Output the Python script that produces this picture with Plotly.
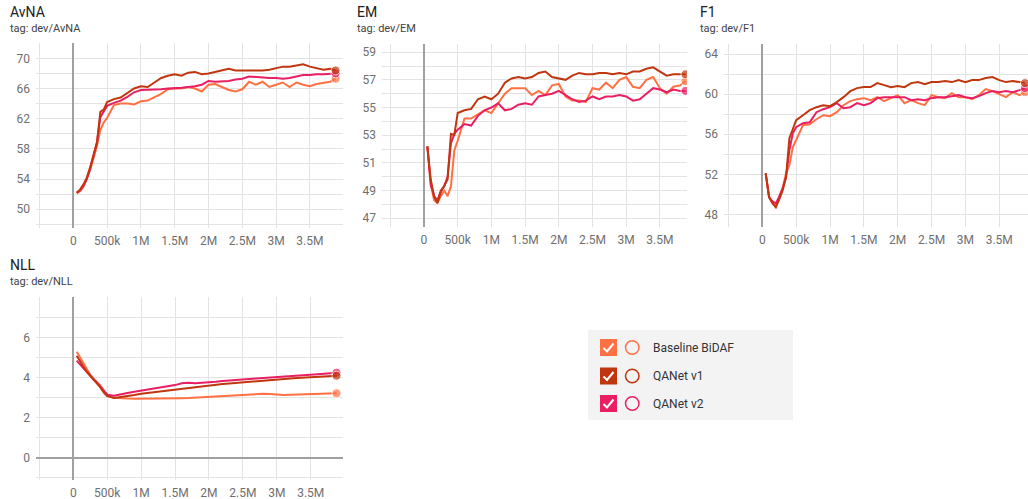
import plotly.graph_objects as go

W, H = 1028, 499

# ---------------- data ----------------
steps = [50000, 100000, 150000, 200000, 250000, 300000, 350000, 400000, 450000, 500000,
         600000, 700000, 800000, 900000, 1000000, 1100000, 1200000, 1300000, 1400000, 1500000,
         1600000, 1700000, 1800000, 1900000, 2000000, 2100000, 2200000, 2300000, 2400000, 2500000,
         2600000, 2700000, 2800000, 2900000, 3000000, 3100000, 3200000, 3300000, 3400000, 3500000,
         3600000, 3700000, 3800000, 3880000]

series_names = ["Baseline BiDAF", "QANet v1", "QANet v2"]

avna_base = [52.1, 52.4, 53.0, 54.0, 55.2, 56.8, 58.4, 60.5, 61.5, 62.1,
             63.8, 64.0, 64.0, 63.9, 64.3, 64.4, 64.8, 65.3, 65.9, 66.0,
             66.0, 66.2, 66.0, 65.6, 66.5, 66.6, 66.2, 65.8, 65.6, 65.9,
             66.9, 66.5, 66.9, 66.2, 66.5, 66.8, 66.2, 66.8, 66.5, 66.3,
             66.6, 66.8, 66.9, 67.3]
avna_v1 = [52.2, 52.6, 53.3, 54.2, 55.6, 57.3, 58.8, 62.9, 63.2, 64.2,
           64.6, 64.8, 65.4, 66.0, 66.3, 66.2, 66.8, 67.4, 67.7, 67.9,
           67.7, 68.1, 68.2, 67.9, 68.0, 68.2, 68.3, 68.6, 68.4, 68.4,
           68.4, 68.3, 68.4, 68.5, 68.7, 68.9, 68.9, 69.1, 69.2, 68.9,
           68.7, 68.5, 68.6, 68.4]
avna_v2 = [52.2, 52.5, 53.1, 54.0, 55.4, 57.2, 58.9, 62.2, 63.0, 63.7,
           64.1, 64.4, 64.9, 65.5, 65.8, 65.8, 65.9, 65.9, 66.0, 66.0,
           66.1, 66.2, 66.3, 66.5, 67.0, 66.9, 66.9, 67.0, 67.2, 67.3,
           67.6, 67.5, 67.5, 67.4, 67.4, 67.3, 67.4, 67.6, 67.8, 67.8,
           67.9, 67.9, 68.0, 68.0]

em_base = [52.2, 49.5, 48.3, 48.1, 48.6, 49.0, 48.6, 49.3, 51.9, 52.6,
           54.2, 54.2, 54.5, 54.8, 54.6, 55.3, 56.0, 56.4, 56.4, 56.4,
           55.9, 56.2, 55.9, 56.6, 56.7, 55.8, 55.5, 55.5, 55.4, 56.4,
           56.3, 56.8, 56.4, 57.0, 57.2, 56.5, 56.4, 57.0, 57.2, 56.4,
           56.0, 56.5, 56.6, 56.9]
em_v1 = [52.2, 49.8, 48.6, 48.1, 48.9, 49.4, 49.8, 53.1, 53.0, 54.6,
         54.8, 54.9, 55.6, 55.8, 55.6, 56.0, 56.8, 57.1, 57.2, 57.1,
         57.2, 57.5, 57.6, 57.2, 57.1, 57.0, 57.3, 57.5, 57.4, 57.4,
         57.5, 57.5, 57.4, 57.5, 57.4, 57.6, 57.6, 57.8, 57.9, 57.6,
         57.3, 57.4, 57.4, 57.4]
em_v2 = [52.2, 49.4, 48.6, 48.3, 49.0, 49.3, 50.0, 52.4, 53.1, 53.4,
         53.8, 53.7, 54.4, 54.8, 55.0, 55.3, 54.8, 54.9, 55.2, 55.3,
         55.2, 55.8, 55.9, 56.0, 56.2, 55.9, 55.6, 55.4, 55.5, 55.8,
         55.6, 55.8, 55.8, 55.9, 55.8, 55.5, 55.6, 56.0, 56.4, 56.3,
         56.1, 56.3, 56.2, 56.2]

f1_base = [52.1, 49.8, 49.2, 48.9, 49.7, 50.6, 52.1, 52.9, 54.7, 55.4,
           56.9, 57.0, 57.5, 57.9, 57.8, 58.2, 58.9, 59.3, 59.5, 59.6,
           59.4, 59.7, 59.3, 59.6, 59.9, 59.1, 59.4, 59.1, 58.9, 59.9,
           59.7, 59.6, 60.1, 59.7, 59.7, 59.5, 59.9, 60.5, 60.3, 60.0,
           59.7, 60.2, 59.9, 60.2]
f1_v1 = [52.1, 49.7, 49.1, 48.7, 49.5, 50.4, 51.7, 55.6, 56.5, 57.4,
         57.9, 58.4, 58.7, 58.9, 58.8, 59.2, 59.7, 60.3, 60.6, 60.7,
         60.7, 61.1, 60.9, 60.7, 60.8, 60.7, 61.1, 61.2, 61.0, 61.2,
         61.2, 61.3, 61.2, 61.4, 61.2, 61.4, 61.4, 61.6, 61.7, 61.4,
         61.2, 61.3, 61.2, 61.1]
f1_v2 = [52.1, 49.7, 49.3, 49.1, 49.8, 50.6, 51.7, 54.4, 56.1, 56.7,
         57.1, 57.2, 58.2, 58.5, 58.7, 59.1, 58.6, 58.7, 59.1, 58.9,
         59.1, 59.6, 59.7, 59.7, 59.7, 59.7, 59.4, 59.5, 59.4, 59.6,
         59.7, 59.7, 59.8, 59.9, 59.7, 59.6, 59.8, 60.1, 60.3, 60.2,
         60.3, 60.2, 60.4, 60.6]

nll_base = [5.3, 5.0, 4.7, 4.4, 4.15, 3.95, 3.8, 3.6, 3.35, 3.15,
            3.0, 2.97, 2.96, 2.95, 2.95, 2.94, 2.95, 2.95, 2.96, 2.95,
            2.97, 2.98, 3.0, 3.02, 3.04, 3.05, 3.08, 3.1, 3.12, 3.16,
            3.18, 3.17, 3.2, 3.18, 3.14, 3.13, 3.15, 3.16, 3.18, 3.2,
            3.2, 3.21, 3.22, 3.22]
nll_v1 = [5.1, 4.8, 4.55, 4.3, 4.1, 3.92, 3.75, 3.5, 3.25, 3.08,
          2.98, 3.02, 3.08, 3.13, 3.2, 3.24, 3.28, 3.32, 3.36, 3.4,
          3.45, 3.5, 3.55, 3.58, 3.62, 3.65, 3.68, 3.71, 3.74, 3.78,
          3.8, 3.83, 3.86, 3.89, 3.92, 3.94, 3.96, 3.98, 4.0, 4.02,
          4.04, 4.06, 4.08, 4.1]
nll_v2 = [4.85, 4.65, 4.45, 4.25, 4.05, 3.9, 3.75, 3.55, 3.3, 3.15,
          3.1, 3.18, 3.24, 3.3, 3.35, 3.4, 3.46, 3.52, 3.58, 3.63,
          3.72, 3.75, 3.72, 3.74, 3.78, 3.8, 3.84, 3.87, 3.9, 3.92,
          3.94, 3.96, 3.98, 4.0, 4.03, 4.06, 4.08, 4.1, 4.12, 4.14,
          4.17, 4.2, 4.22, 4.25]

x_tickvals = [-500000, 0, 500000, 1000000, 1500000, 2000000, 2500000, 3000000, 3500000]
x_ticktext = ["", "0", "500k", "1M", "1.5M", "2M", "2.5M", "3M", "3.5M"]

avna_ticks = [50, 54, 58, 62, 66, 70]
em_ticks = [47, 49, 51, 53, 55, 57, 59]
f1_ticks = [48, 52, 56, 60, 64]
nll_ticks = [0, 2, 4, 6]

colors = ["#ff7043", "#c0360e", "#e91e63"]

# ---------------- layout helpers ----------------
def px(x):
    return x / W

def py(y):
    return 1 - y / H

GRID = "#e3e3e3"
ZERO = "#a0a0a0"
TICKFONT = dict(family="Roboto", size=12, color="#6f6f6f")

panels = [
    # title, tag, series, yticks, minor dtick, xdom(px), ydom(px top,bottom), xrange(M), yrange, title pos
    ("AvNA", "tag: dev/AvNA", (avna_base, avna_v1, avna_v2), avna_ticks, 2,
     (36, 343.3), (43, 227.7), (-0.552, 3.994), (47.56, 72.03), (8, 12, 28)),
    ("EM", "tag: dev/EM", (em_base, em_v1, em_v2), em_ticks, 1,
     (382, 687), (44, 226.7), (-0.623, 3.902), (46.39, 59.59), (355, 12, 28)),
    ("F1", "tag: dev/F1", (f1_base, f1_v1, f1_v2), f1_ticks, 2,
     (724, 1028), (44, 226.7), (-0.566, 3.925), (46.78, 65.0), (698, 12, 28)),
    ("NLL", "tag: dev/NLL", (nll_base, nll_v1, nll_v2), nll_ticks, 1,
     (36, 343.3), (296.7, 480), (-0.55, 3.98), (-1.115, 8.05), (8, 265, 281.5)),
]

fig = go.Figure()
annotations = []
shapes = []
layout_axes = {}

for i, (title, tag, series, yticks, mdt, xd, yd, xr, yr, tpos) in enumerate(panels, start=1):
    xa = "x" if i == 1 else f"x{i}"
    ya = "y" if i == 1 else f"y{i}"
    xkey = "xaxis" if i == 1 else f"xaxis{i}"
    ykey = "yaxis" if i == 1 else f"yaxis{i}"
    order = [0, 2, 1]
    for k in order:
        vals = series[k]
        n = len(vals)
        fig.add_trace(go.Scatter(
            x=steps, y=vals, xaxis=xa, yaxis=ya, mode="lines+markers",
            line=dict(color=colors[k], width=2, shape="linear"),
            marker=dict(size=[0] * (n - 1) + [9], color=colors[k]),
            name=series_names[k], showlegend=False, hoverinfo="skip"))
    layout_axes[xkey] = dict(
        domain=[px(xd[0]), px(xd[1])], anchor=ya,
        range=[xr[0] * 1e6, xr[1] * 1e6],
        tickmode="array", tickvals=x_tickvals, ticktext=x_ticktext,
        showgrid=True, gridcolor=GRID, gridwidth=1,
        zeroline=True, zerolinecolor=ZERO, zerolinewidth=1.5,
        showline=False, ticks="", tickfont=TICKFONT, ticklabelstandoff=4,
        fixedrange=True)
    layout_axes[ykey] = dict(
        domain=[py(yd[1]), py(yd[0])], anchor=xa,
        range=list(yr),
        tickmode="array", tickvals=yticks,
        showgrid=True, gridcolor=GRID, gridwidth=1,
        minor=dict(tickmode="linear", tick0=0, dtick=mdt, showgrid=True,
                   gridcolor=GRID, gridwidth=1, ticks=""),
        zeroline=(title == "NLL"), zerolinecolor=ZERO, zerolinewidth=1.5,
        showline=False, ticks="", tickfont=TICKFONT, ticklabelstandoff=5,
        fixedrange=True)
    annotations.append(dict(
        text=title, x=px(tpos[0]), y=py(tpos[1]), xref="paper", yref="paper",
        xanchor="left", yanchor="middle", showarrow=False,
        font=dict(family="Roboto", size=14, color="#212121")))
    annotations.append(dict(
        text=tag, x=px(tpos[0]), y=py(tpos[2]), xref="paper", yref="paper",
        xanchor="left", yanchor="middle", showarrow=False,
        font=dict(family="Roboto", size=11, color="#424242")))

# ---------------- custom legend ----------------
shapes.append(dict(type="rect", xref="paper", yref="paper",
                   x0=px(588), x1=px(793), y0=py(420), y1=py(330),
                   fillcolor="#f3f3f3", line=dict(width=0), layer="below"))
row_y = [347.5, 376, 403.5]
for k, cy in enumerate(row_y):
    shapes.append(dict(type="rect", xref="paper", yref="paper",
                       x0=px(600), x1=px(617), y0=py(cy + 8.5), y1=py(cy - 8.5),
                       fillcolor=colors[k], line=dict(width=0)))
    path = f"M {px(603.5)} {py(cy + 0.5)} L {px(607)} {py(cy + 4)} L {px(613.5)} {py(cy - 4)}"
    shapes.append(dict(type="path", xref="paper", yref="paper", path=path,
                       line=dict(color="white", width=2)))
    shapes.append(dict(type="circle", xref="paper", yref="paper",
                       x0=px(625.5), x1=px(639), y0=py(cy + 6.75), y1=py(cy - 6.75),
                       line=dict(color=colors[k], width=1.5), fillcolor="rgba(0,0,0,0)"))
    annotations.append(dict(
        text=series_names[k], x=px(651), y=py(cy), xref="paper", yref="paper",
        xanchor="left", yanchor="middle", showarrow=False,
        font=dict(family="Roboto", size=12, color="#333333")))

fig.update_layout(
    width=W, height=H, margin=dict(l=0, r=0, t=0, b=0),
    paper_bgcolor="white", plot_bgcolor="white",
    showlegend=False, annotations=annotations, shapes=shapes,
    **layout_axes)

fig.write_html("out.html", config={"displayModeBar": False},
               post_script="document.body.style.margin='0';document.body.style.overflow='hidden';")
